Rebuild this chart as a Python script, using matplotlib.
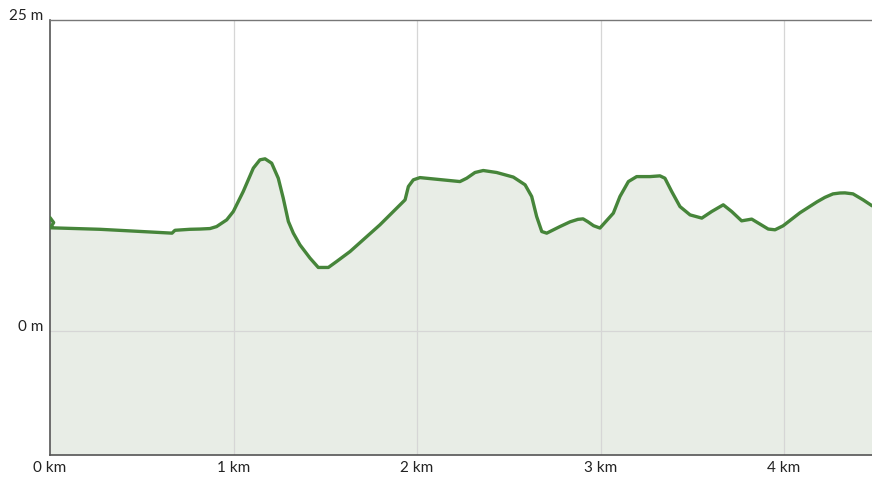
import matplotlib
matplotlib.use("Agg")
import matplotlib.pyplot as plt

distance_km = [0.0, 0.02, 0.003, 0.005, 0.272, 0.665, 0.681, 0.763, 0.817, 0.872,
               0.908, 0.963, 0.999, 1.053, 1.108, 1.144, 1.172, 1.208, 1.244, 1.271,
               1.299, 1.326, 1.362, 1.417, 1.462, 1.517, 1.562, 1.635, 1.798, 1.935,
               1.953, 1.980, 2.016, 2.234, 2.271, 2.316, 2.361, 2.434, 2.525, 2.589,
               2.625, 2.652, 2.680, 2.707, 2.779, 2.834, 2.877, 2.905, 2.932, 2.962,
               2.997, 3.070, 3.106, 3.152, 3.197, 3.270, 3.324, 3.351, 3.388, 3.433,
               3.488, 3.552, 3.606, 3.669, 3.715, 3.769, 3.824, 3.860, 3.914, 3.951,
               3.995, 4.087, 4.180, 4.223, 4.267, 4.305, 4.332, 4.376, 4.431, 4.480]
elevation_m = [9.1, 8.7, 8.3, 8.28, 8.16, 7.85, 8.08, 8.16, 8.18, 8.22,
               8.38, 8.92, 9.59, 11.20, 13.08, 13.75, 13.83, 13.48, 12.27, 10.67,
               8.79, 7.85, 6.91, 5.84, 5.09, 5.09, 5.57, 6.37, 8.52, 10.53,
               11.60, 12.14, 12.32, 12.00, 12.27, 12.73, 12.89, 12.73, 12.36, 11.74,
               10.80, 9.19, 7.98, 7.85, 8.38, 8.76, 8.96, 9.00, 8.76, 8.45,
               8.26, 9.46, 10.80, 12.00, 12.40, 12.40, 12.46, 12.27, 11.20, 9.99,
               9.32, 9.06, 9.59, 10.13, 9.59, 8.84, 8.98, 8.66, 8.18, 8.12,
               8.44, 9.49, 10.37, 10.73, 11.01, 11.08, 11.09, 11.01, 10.53, 10.05]

x_ticks = [0, 1, 2, 3, 4]
x_tick_labels = ["0 km", "1 km", "2 km", "3 km", "4 km"]
y_ticks = [0, 25]
y_tick_labels = ["0 m", "25 m"]

plt.rcParams['font.family'] = ['Lato', 'DejaVu Sans']

fig = plt.figure(figsize=(8.72, 4.82), dpi=100)
ax = fig.add_axes([50/872, 27/482, 1 - 50/872, 435/482])

ymin, ymax = -10, 25
ax.set_xlim(0, (872 - 50) / 183.5)
ax.set_ylim(ymin, ymax)

ax.fill_between(distance_km, elevation_m, ymin, color="#e8ede6", linewidth=0, zorder=1)
ax.plot(distance_km, elevation_m, color="#46853a", linewidth=2.4, solid_capstyle="round",
        solid_joinstyle="round", zorder=3)

for xt in x_ticks[1:]:
    ax.axvline(xt, color="#d6d6d6", linewidth=0.9, zorder=2)
ax.axhline(0, color="#d6d6d6", linewidth=0.9, zorder=2)

ax.set_xticks(x_ticks)
ax.set_xticklabels(x_tick_labels)
ax.set_yticks(y_ticks)
ax.set_yticklabels(y_tick_labels)
ax.tick_params(axis="both", length=0, labelsize=11, colors="#222222")
ax.tick_params(axis="x", pad=4)
ax.tick_params(axis="y", pad=5)
for lbl in ax.get_yticklabels():
    lbl.set_verticalalignment("baseline")

ax.spines["right"].set_visible(False)
ax.spines["left"].set_color("#555555")
ax.spines["bottom"].set_color("#555555")
ax.spines["top"].set_color("#777777")
ax.spines["left"].set_linewidth(1.2)
ax.spines["bottom"].set_linewidth(1.2)
ax.spines["top"].set_linewidth(1.0)

fig.savefig("out.png", dpi=100)
